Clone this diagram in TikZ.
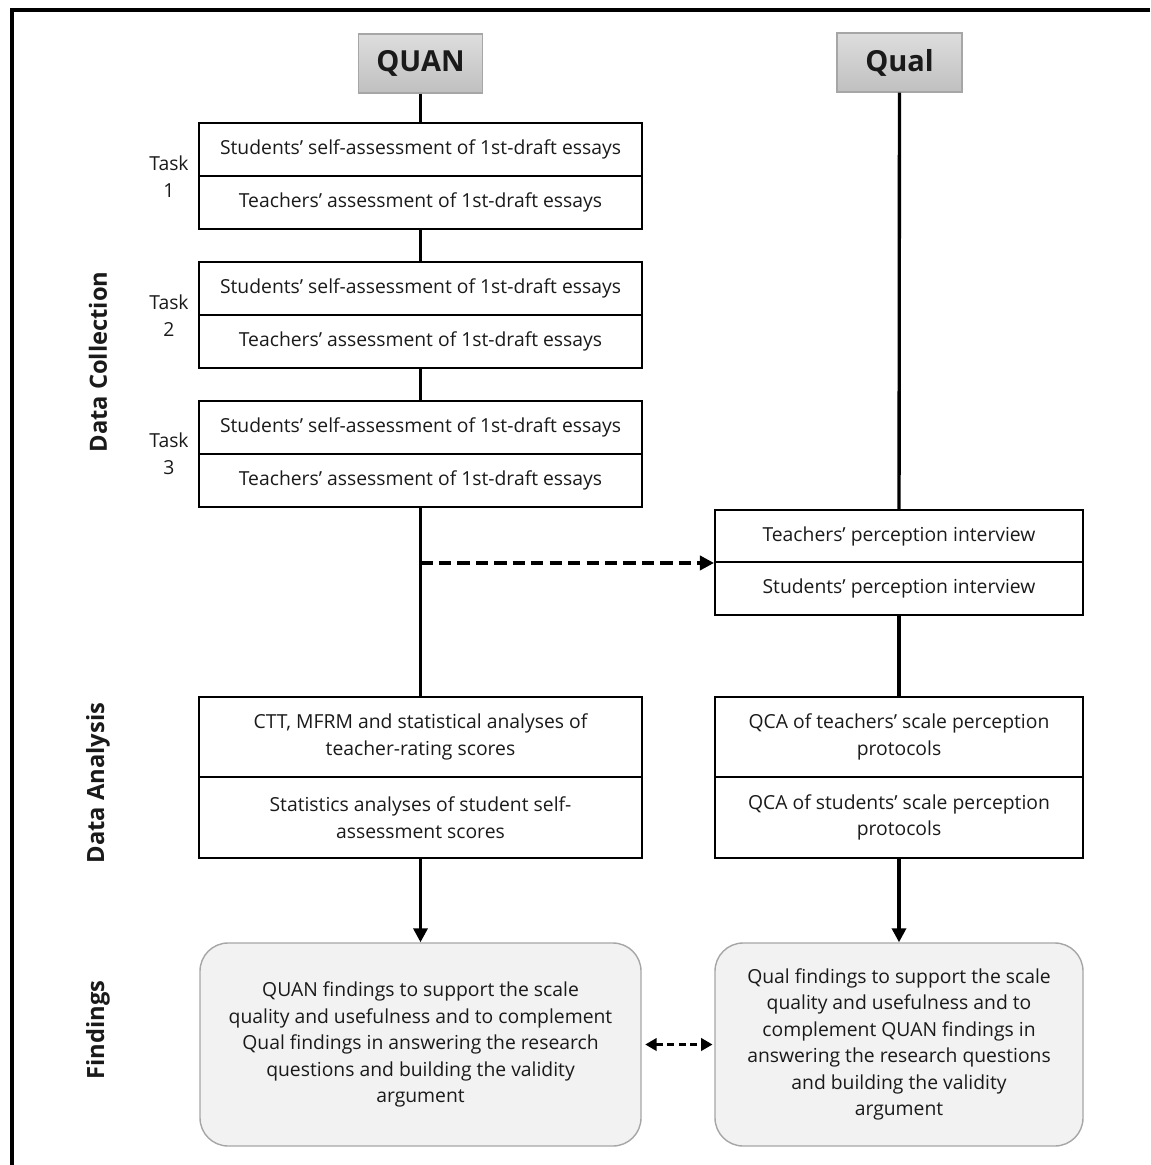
\documentclass[tikz,border=0pt]{standalone}
\usepackage{fontspec}
\setmainfont{Open Sans}
\usepackage{xcolor}
\definecolor{mmHeadTop}{RGB}{221, 221, 221}
\definecolor{mmHeadBot}{RGB}{192, 192, 192}
\definecolor{mmEdge}   {RGB}{166, 166, 166}
\definecolor{mmFind}   {RGB}{242, 242, 242}
\definecolor{mmInk}    {RGB}{ 26,  26,  26}
\usepackage{tikz}
\usetikzlibrary{
  arrows.meta,
}

\begin{document}
\begin{tikzpicture}[
  x=0.02cm, y=-0.02cm,
  font=\fontsize{11}{15.1}\selectfont,
  text=mmInk,
  link/.style={line width=1.9pt},
  headbox/.style={draw=mmEdge, line width=0.6pt, top color=mmHeadTop,
    bottom color=mmHeadBot, inner sep=0pt, minimum height=59*\px,
    font=\fontsize{16.5}{20}\selectfont\bfseries},
  cell/.style={draw, line width=1.1pt, inner sep=0pt, align=center},
  quancell/.style={cell, minimum width=443*\px},
  qualcell/.style={cell, minimum width=368*\px},
  findbox/.style={draw=mmEdge, line width=0.8pt, fill=mmFind,
    rounded corners=16pt, inner sep=0pt, align=center, minimum height=203*\px},
  sidelabel/.style={rotate=90, font=\fontsize{13.5}{16}\selectfont\bfseries},
  tip/.style={-{Triangle[length=8pt, width=8pt]}},
]
  % Scale: 1 unit = 1px of the 1150x1165 page, y downwards
  \def\px{0.02cm}
  \useasboundingbox (0,0) rectangle (1150,1165);

  % Frame (top and left edges only)
  \draw[line width=1.9pt] (1150,10) -- (12,10) -- (12,1165);

  % Phase labels
  \node[sidelabel] (lcoll) at (98,362) {Data Collection};
  \node[sidelabel] (lana)  at (98,783) {Data Analysis};
  \node[sidelabel] (lfind) at (98,1030) {Findings};

  % Strand heads
  \node[headbox, minimum width=124*\px] (quan) at (420.5,63.5) {QUAN};
  \node[headbox, minimum width=125*\px] (qual) at (899.5,62.5) {Qual};

  % QUAN data collection: three tasks
  \node[quancell, minimum height=53*\px] (t1a) at (420.5,149.5) {Students’ self-assessment of 1st-draft essays};
  \node[quancell, minimum height=53*\px] (t1b) at (420.5,202.5) {Teachers’ assessment of 1st-draft essays};
  \node[quancell, minimum height=53*\px] (t2a) at (420.5,288.5) {Students’ self-assessment of 1st-draft essays};
  \node[quancell, minimum height=53*\px] (t2b) at (420.5,341.5) {Teachers’ assessment of 1st-draft essays};
  \node[quancell, minimum height=53*\px] (t3a) at (420.5,427.5) {Students’ self-assessment of 1st-draft essays};
  \node[quancell, minimum height=53*\px] (t3b) at (420.5,480.5) {Teachers’ assessment of 1st-draft essays};

  \node[align=center] (task1) at (169,176.5) {Task\\1};
  \node[align=center] (task2) at (169,315.5) {Task\\2};
  \node[align=center] (task3) at (169,454)   {Task\\3};

  % Qual data collection: interviews
  \node[qualcell, minimum height=52*\px] (perc1) at (899,536)   {Teachers’ perception interview};
  \node[qualcell, minimum height=53*\px] (perc2) at (899,588.5) {Students’ perception interview};

  % Data analysis
  \node[quancell, minimum height=80*\px] (ana1a) at (420.5,737)   {CTT, MFRM and statistical analyses of\\teacher-rating scores};
  \node[quancell, minimum height=81*\px] (ana1b) at (420.5,817.5) {Statistics analyses of student self-\\assessment scores};
  \node[qualcell, minimum height=80*\px] (ana2a) at (899,737)   {QCA of teachers’ scale perception\\protocols};
  \node[qualcell, minimum height=81*\px] (ana2b) at (899,817.5) {QCA of students’ scale perception\\protocols};

  % Findings
  \node[findbox, minimum width=441*\px] (find1) at (420.5,1044.5)
    {QUAN findings to support the scale\\quality and usefulness and to complement\\Qual findings in answering the research\\questions and building the validity\\argument};
  \node[findbox, minimum width=368*\px] (find2) at (899,1044.5)
    {Qual findings to support the scale\\quality and usefulness and to\\complement QUAN findings in\\answering the research questions\\and building the validity\\argument};

  % Connectors
  \draw[link] (quan) -- (t1a);
  \draw[link] (t1b) -- (t2a);
  \draw[link] (t2b) -- (t3a);
  \draw[link] (t3b) -- (ana1a);
  \draw[link] (qual) -- (perc1);
  \draw[link] (perc2) -- (ana2a);
  \draw[link, tip] (ana1b) -- (find1);
  \draw[link, tip] (ana2b) -- (find2);

  % Dashed links between the strands
  \coordinate (split) at (t3b.south |- perc1.south west);
  \draw[link, tip, dash pattern=on 7pt off 3.5pt] (split) -- (perc1.south west);
  \draw[link, dash pattern=on 4pt off 2.5pt,
    {Triangle[length=6.5pt, width=7pt]}-{Triangle[length=6.5pt, width=7pt]},
    shorten <=2pt, shorten >=1pt] (find1) -- (find2);

\end{tikzpicture}
\end{document}
